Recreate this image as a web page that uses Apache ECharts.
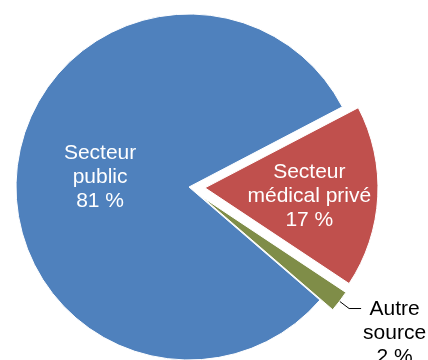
<!DOCTYPE html>
<html>
<head>
<meta charset="utf-8">
<script src="https://cdn.jsdelivr.net/npm/echarts@6/dist/echarts.min.js"></script>
<style>
html,body{margin:0;padding:0;background:#fff;}
#chart{width:428px;height:360px;}
</style>
</head>
<body>
<div id="chart"></div>
<script>
const categories = ['Secteur\npublic', 'Secteur\nmédical privé', 'Autre\nsource'];
const values = [81, 17, 2];
const colors = ['#4F81BD', '#C0504D', '#7F8D48'];

const chart = echarts.init(document.getElementById('chart'), null, {renderer: 'canvas'});
const data = categories.map((name, i) => {
  const item = {name: name, value: values[i], itemStyle: {color: colors[i]}};
  if (i > 0) item.selected = true;
  if (i === 2) {
    item.label = {
      position: 'outside',
      color: '#000',
      padding: [50, 0, 0, 0],
      distanceToLabelLine: 2,
      formatter: p => p.name.split('\n').concat([p.value + ' %']).map(s => '{c|' + s + '}').join('\n'),
      rich: {c: {align: 'center', fontSize: 21, lineHeight: 24, fontFamily: 'Liberation Sans', color: '#000'}}
    };
    item.labelLine = {show: true, length: 12, length2: 12, lineStyle: {color: '#000', width: 1}};
  }
  return item;
});

chart.setOption({
  animation: false,
  series: [{
    type: 'pie',
    center: [189, 187],
    radius: 173,
    startAngle: 319.2,
    clockwise: true,
    selectedMode: 'multiple',
    selectedOffset: 16,
    avoidLabelOverlap: false,
    itemStyle: {borderColor: '#fff', borderWidth: 1},
    emphasis: {disabled: true},
    label: {
      show: true,
      position: 'inside',
      color: '#fff',
      fontSize: 21,
      lineHeight: 24,
      fontFamily: 'Liberation Sans',
      formatter: p => p.name + '\n' + p.value + ' %'
    },
    labelLine: {show: false},
    labelLayout: function (params) {
      if (params.dataIndex === 1) return {dx: 15, dy: 4};
      return {};
    },
    data: data
  }]
});
</script>
</body>
</html>
